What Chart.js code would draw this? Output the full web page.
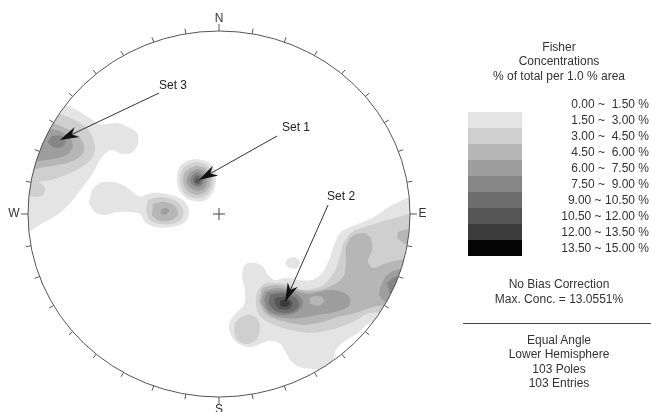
<!DOCTYPE html>
<html>
<head>
<meta charset="utf-8">
<script src="https://cdn.jsdelivr.net/npm/chart.js@4.4.0/dist/chart.umd.min.js"></script>
<style>
body { margin: 0; background: #fff; }
#wrap { position: relative; width: 651px; height: 412px; overflow: hidden;
        font-family: "Liberation Sans", Arial, sans-serif; font-size: 12px; color: #333; }
#stereo { position: absolute; left: 0; top: 0; }
.txt { position: absolute; left: 460px; width: 198px; text-align: center; line-height: 14px; white-space: nowrap; }
.rng { position: absolute; right: 2px; line-height: 14px; white-space: pre; text-align: right; }
.box { position: absolute; left: 468px; width: 54px; height: 16px; }
#rule { position: absolute; left: 463px; width: 188px; top: 323px; height: 1px; background: #444; }
</style>
</head>
<body>
<div id="wrap">
  <canvas id="stereo" width="651" height="412"></canvas>
  <div class="txt" style="top:40px">Fisher</div>
  <div class="txt" style="top:54px">Concentrations</div>
  <div class="txt" style="top:69px">% of total per 1.0 % area</div>
  <div id="legend"></div>
  <div class="txt" style="top:277px">No Bias Correction</div>
  <div class="txt" style="top:292px">Max. Conc. = 13.0551%</div>
  <div id="rule"></div>
  <div class="txt" style="top:333px">Equal Angle</div>
  <div class="txt" style="top:347px">Lower Hemisphere</div>
  <div class="txt" style="top:362px">103 Poles</div>
  <div class="txt" style="top:376px">103 Entries</div>
</div>
<script>
// contour level bounds (% of total per 1.0 % area)
const levelBounds = [0, 1.5, 3, 4.5, 6, 7.5, 9, 10.5, 12, 13.5, 15];
const levelColors = [null, '#e4e4e4', '#cfcfcf', '#b6b6b6', '#9e9e9e', '#868686', '#6d6d6d', '#555555', '#3b3b3b', '#050505'];

// contour outlines, x/y in % of net radius (N up, E right)
const set3L1 = [[-84.4,62.2],[-80.2,59.5],[-74.4,56.8],[-68.6,53.0],[-62.4,49.1],[-53.4,49.7],[-47.7,47.5],[-43.0,44.2],[-42.4,38.8],[-45.1,33.9],[-50.3,32.8],[-55.5,34.9],[-58.7,33.9],[-62.4,29.5],[-66.0,22.4],[-71.3,14.7],[-76.5,7.6],[-83.3,0.5],[-92.2,-4.9],[-99.0,-9.3],[-106.9,-11.5],[-112.1,34.9],[-93.8,65.0]];
const set3L2 = [[-91.2,56.8],[-83.3,54.6],[-75.5,51.3],[-69.2,47.0],[-66.0,41.5],[-65.0,34.9],[-67.6,28.9],[-72.8,25.1],[-79.1,21.8],[-84.4,19.7],[-91.2,18.0],[-104.3,17.5],[-104.3,55.7]];
const set3L2b = [[-99.0,16.4],[-93.8,16.9],[-91.2,14.2],[-92.2,10.4],[-96.4,9.3],[-101.7,10.4]];
const set3L3 = [[-93.8,55.7],[-88.6,50.8],[-81.7,47.5],[-75.5,44.2],[-71.3,39.3],[-70.7,34.9],[-72.8,31.1],[-78.1,28.4],[-84.4,26.8],[-91.2,25.7],[-101.7,25.1],[-101.7,54.1]];
const set3L4 = [[-93.8,48.0],[-87.5,46.4],[-82.3,44.8],[-78.1,41.5],[-76.5,37.1],[-79.1,32.8],[-84.4,30.6],[-90.7,29.5],[-99.0,29.5],[-99.0,47.0]];
const set3L5 = [[-87.5,42.6],[-82.3,42.6],[-80.2,39.9],[-82.3,36.6],[-87.0,36.6],[-89.6,39.3]];

const pairL1 = [[-66.5,13.1],[-62.4,16.9],[-55.5,17.5],[-49.3,15.3],[-45.1,12.0],[-41.4,9.3],[-37.2,10.9],[-30.9,11.5],[-23.1,9.8],[-17.8,6.6],[-15.7,1.1],[-17.8,-4.4],[-24.6,-7.1],[-33.5,-7.1],[-38.8,-4.4],[-41.4,0],[-46.6,1.1],[-52.9,1.1],[-59.7,-0.5],[-65.0,1.1],[-68.1,6.0]];
const pairL2 = [[-37.2,7.6],[-30.9,9.3],[-23.6,7.6],[-19.4,3.8],[-18.9,-1.1],[-22.5,-4.9],[-30.9,-5.5],[-36.2,-3.3],[-38.3,2.2]];
const pairL3 = [[-34.6,5.5],[-28.3,6.6],[-23.1,4.4],[-21.5,0],[-24.6,-3.3],[-30.9,-3.8],[-35.1,-1.1]];
const pairL4 = [[-29.9,2.7],[-27.2,3.3],[-26.2,1.1],[-28.8,-0.5],[-30.9,0.5]];

const set1L1 = [[-12.1,30.0],[-5.8,28.4],[-2.1,24.0],[-1.6,17.5],[-3.7,10.9],[-8.4,7.1],[-15.2,7.6],[-19.9,11.5],[-22.0,17.5],[-21.0,25.1],[-17.3,28.9]];
const set1L2 = [[-12.1,28.4],[-6.8,26.8],[-3.7,22.9],[-3.1,16.9],[-5.2,11.5],[-10.0,8.7],[-15.2,9.3],[-18.9,12.6],[-20.4,18.0],[-19.4,24.0],[-16.2,27.3]];
const set1L3 = [[-11.5,26.2],[-7.3,25.1],[-4.7,21.3],[-4.7,15.8],[-7.3,12.0],[-11.5,10.4],[-15.7,12.0],[-18.3,15.8],[-18.3,21.8],[-15.2,25.1]];
const set1L4 = [[-11.5,24.6],[-7.9,23.5],[-6.3,19.7],[-6.8,15.3],[-10.0,12.6],[-14.1,13.7],[-16.8,16.9],[-16.2,21.3],[-14.1,23.5]];
const set1L5 = [[-11.5,22.9],[-8.4,21.3],[-7.9,17.5],[-10.0,14.7],[-13.1,15.3],[-15.2,18.0],[-14.1,21.3]];
const set1L6 = [[-11.5,21.3],[-9.4,20.2],[-8.9,17.5],[-11.0,15.8],[-13.1,16.9],[-13.6,19.7]];
const set1L7 = [[-12.1,19.7],[-10.0,19.1],[-10.5,16.9],[-12.6,17.5]];

const set2L1 = [[110.6,13.1],[100.1,9.3],[93.8,6.6],[88.0,3.3],[82.8,-0.5],[75.5,-4.4],[68.6,-7.1],[64.5,-9.3],[61.8,-13.1],[59.7,-18.6],[58.2,-23.5],[56.6,-27.3],[54.0,-32.2],[48.7,-36.0],[41.4,-36.0],[35.6,-34.9],[29.3,-36.0],[25.7,-33.3],[23.1,-28.9],[18.9,-26.8],[13.6,-27.8],[12.1,-34.4],[13.6,-41.5],[13.1,-49.7],[8.4,-54.6],[5.2,-60.6],[6.8,-67.2],[10.5,-71.0],[17.3,-72.6],[23.1,-70.4],[26.7,-69.3],[31.4,-70.4],[34.6,-74.8],[37.7,-80.3],[41.9,-83.5],[48.7,-84.6],[56.1,-84.1],[59.2,-80.8],[61.3,-74.3],[66.0,-69.3],[72.8,-65.0],[80.2,-59.0],[110.6,-56.8]];
const set2L1b = [[35.6,-24.6],[39.8,-23.5],[42.4,-26.2],[40.9,-29.5],[36.7,-29.5],[34.6,-27.3]];
const set2L2 = [[110.6,0.5],[100.1,0],[92.2,-2.2],[84.4,-4.4],[76.5,-7.1],[69.7,-9.8],[65.5,-15.3],[63.4,-22.9],[61.3,-29.5],[58.2,-34.9],[54.0,-39.3],[47.7,-41.0],[41.4,-41.0],[35.6,-38.2],[29.3,-37.7],[23.6,-38.2],[19.9,-43.1],[19.4,-49.7],[21.5,-55.7],[27.8,-60.1],[37.2,-63.3],[46.6,-65.0],[55.5,-63.9],[63.4,-61.7],[71.3,-58.4],[79.1,-54.1],[110.6,-53.5]];
const set2L2b = [[10.5,-56.8],[16.2,-55.1],[20.4,-57.9],[21.5,-63.3],[19.4,-68.8],[14.7,-71.0],[10.0,-69.3],[7.9,-64.4],[8.4,-59.5]];
const set2L3 = [[22.5,-40.4],[29.3,-38.8],[37.2,-39.9],[45.1,-42.0],[52.9,-41.5],[59.7,-38.8],[65.0,-34.4],[66.5,-26.8],[66.5,-18.6],[69.2,-12.6],[74.9,-10.4],[79.1,-12.6],[80.2,-19.1],[78.1,-25.7],[80.7,-29.5],[87.5,-26.8],[94.8,-25.1],[110.6,-22.9],[110.6,-50.8],[84.4,-50.2],[79.1,-51.3],[71.3,-54.1],[62.4,-56.2],[54.0,-59.0],[43.5,-60.6],[33.0,-58.4],[24.6,-54.6],[21.0,-48.0]];
const set2L3b = [[93.8,-9.8],[100.1,-8.2],[105.3,-9.8],[105.3,-16.9],[97.5,-16.4],[93.3,-13.1]];
const set2L4 = [[23.6,-42.0],[30.9,-40.4],[39.8,-42.0],[46.6,-43.7],[51.9,-42.6],[58.2,-41.5],[64.5,-42.6],[68.6,-45.9],[67.6,-50.8],[60.8,-53.5],[51.9,-55.1],[43.5,-56.8],[33.5,-56.8],[25.7,-54.1],[22.0,-48.0]];
const set2L4b = [[84.4,-40.4],[87.5,-33.9],[92.7,-30.6],[110.6,-28.4],[110.6,-48.6],[87.5,-48.0],[83.8,-44.2]];
const set2Gap = [[47.7,-45.3],[52.9,-44.8],[55.0,-47.5],[51.9,-50.2],[47.7,-49.1]];
const set2L5 = [[25.2,-42.6],[33.5,-42.0],[41.4,-44.2],[44.0,-49.1],[39.8,-54.1],[31.4,-55.1],[25.7,-52.4],[23.6,-47.0]];
const set2L5b = [[88.0,-37.7],[92.2,-34.4],[110.6,-33.3],[110.6,-44.8],[89.6,-43.7]];
const set2L6 = [[26.7,-44.1],[34.2,-43.3],[40.5,-46.0],[41.7,-50.5],[36.7,-53.9],[29.8,-53.2],[25.9,-49.2]];
const set2L7 = [[29.2,-46.0],[34.8,-45.4],[38.5,-48.6],[36.8,-51.9],[31.7,-51.9],[29.2,-49.2]];
const set2L8 = [[32.0,-47.5],[35.6,-47.0],[37.2,-49.1],[34.6,-50.8],[32.0,-50.2]];

// set labels and arrows
const setNames = ['Set 1', 'Set 2', 'Set 3'];
const arrowTips = [[-10.5,18.6], [34.6,-48.0], [-83.3,40.4]];
const arrowTails = [[30.4,42.6], [57.1,4.9], [-31.4,66.1]];
const labelPos = [[40.3,47.0], [63.9,9.3], [-24.1,69.9]];

const directions = ['N', 'E', 'S', 'W'];

// drawing order: lowest level first
const contours = [
  [1, set3L1], [1, pairL1], [1, set1L1], [1, set2L1], [1, set2L1b],
  [2, set3L2], [2, set3L2b], [2, pairL2], [2, set1L2], [2, set2L2], [2, set2L2b],
  [3, set3L3], [3, pairL3], [3, set1L3], [3, set2L3], [3, set2L3b],
  [4, set3L4], [4, pairL4], [4, set1L4], [4, set2L4], [4, set2L4b],
  [3, set2Gap],
  [5, set3L5], [5, set1L5], [5, set2L5], [5, set2L5b],
  [6, set1L6], [6, set2L6],
  [7, set1L7], [7, set2L7],
  [8, set2L8]
];

const datasets = contours.map((c, i) => ({
  data: c[1].map(p => ({x: p[0], y: p[1]})),
  backgroundColor: levelColors[c[0]],
  borderWidth: 0,
  pointRadius: 0,
  fill: 'shape',
  tension: 0.35,
  order: contours.length - i
}));

// legend boxes + labels
const legend = document.getElementById('legend');
for (let i = 0; i < levelBounds.length - 1; i++) {
  const yc = 104 + 16 * i;
  if (levelColors[i]) {
    const b = document.createElement('div');
    b.className = 'box';
    b.style.top = (yc - 8) + 'px';
    b.style.background = levelColors[i];
    legend.appendChild(b);
  }
  const t = document.createElement('div');
  t.className = 'rng';
  t.style.top = (yc - 7) + 'px';
  t.textContent = levelBounds[i].toFixed(2) + ' ~ ' + levelBounds[i + 1].toFixed(2).padStart(5, ' ') + ' %';
  legend.appendChild(t);
}

function netGeom(chart) {
  const {x, y} = chart.scales;
  const cx = x.getPixelForValue(0), cy = y.getPixelForValue(0);
  return {x, y, cx, cy, rx: x.getPixelForValue(100) - cx, ry: cy - y.getPixelForValue(100)};
}

const stereoPlugin = {
  id: 'stereo',
  beforeDatasetsDraw(chart) {
    const g = netGeom(chart);
    const ctx = chart.ctx;
    ctx.save();
    ctx.beginPath();
    ctx.ellipse(g.cx, g.cy, g.rx, g.ry, 0, 0, Math.PI * 2);
    ctx.clip();
  },
  afterDatasetsDraw(chart) {
    const ctx = chart.ctx;
    ctx.restore();
    const g = netGeom(chart);

    // primitive circle + ticks
    ctx.save();
    ctx.strokeStyle = '#555';
    ctx.lineWidth = 1;
    ctx.beginPath();
    ctx.ellipse(g.cx, g.cy, g.rx, g.ry, 0, 0, Math.PI * 2);
    ctx.stroke();
    for (let a = 0; a < 360; a += 10) {
      const r = a * Math.PI / 180;
      const px = g.cx + g.rx * Math.sin(r), py = g.cy - g.ry * Math.cos(r);
      const len = a % 90 === 0 ? 7 : 5;
      ctx.beginPath();
      ctx.moveTo(px, py);
      ctx.lineTo(px + len * Math.sin(r), py - len * Math.cos(r));
      ctx.stroke();
    }
    ctx.font = '12px "Liberation Sans", Arial, sans-serif';
    ctx.fillStyle = '#333';
    ctx.textAlign = 'center';
    ctx.textBaseline = 'middle';
    directions.forEach((d, i) => {
      const r = i * Math.PI / 2;
      const off = i === 3 ? 14 : 12.5;
      ctx.fillText(d, g.cx + (g.rx + off) * Math.sin(r), g.cy - (g.ry + off) * Math.cos(r));
    });

    // centre cross
    ctx.strokeStyle = '#444';
    ctx.beginPath();
    ctx.moveTo(g.cx - 6, g.cy); ctx.lineTo(g.cx + 6, g.cy);
    ctx.moveTo(g.cx, g.cy - 6); ctx.lineTo(g.cx, g.cy + 6);
    ctx.stroke();

    // arrows to the sets
    setNames.forEach((name, i) => {
      const tx = g.x.getPixelForValue(arrowTips[i][0]), ty = g.y.getPixelForValue(arrowTips[i][1]);
      const sx = g.x.getPixelForValue(arrowTails[i][0]), sy = g.y.getPixelForValue(arrowTails[i][1]);
      const dx = sx - tx, dy = sy - ty, d = Math.hypot(dx, dy);
      const ux = dx / d, uy = dy / d;
      ctx.strokeStyle = '#333';
      ctx.beginPath();
      ctx.moveTo(sx, sy);
      ctx.lineTo(tx + ux * 12, ty + uy * 12);
      ctx.stroke();
      ctx.fillStyle = '#111';
      ctx.beginPath();
      ctx.moveTo(tx, ty);
      ctx.lineTo(tx + ux * 19 - uy * 5.5, ty + uy * 19 + ux * 5.5);
      ctx.lineTo(tx + ux * 13, ty + uy * 13);
      ctx.lineTo(tx + ux * 19 + uy * 5.5, ty + uy * 19 - ux * 5.5);
      ctx.closePath();
      ctx.fill();
      ctx.fillStyle = '#222';
      ctx.fillText(name, g.x.getPixelForValue(labelPos[i][0]), g.y.getPixelForValue(labelPos[i][1]));
    });
    ctx.restore();
  }
};

new Chart(document.getElementById('stereo').getContext('2d'), {
  type: 'line',
  data: { datasets: datasets },
  options: {
    responsive: false,
    animation: false,
    events: [],
    layout: { padding: { left: 28, right: 241, top: 31, bottom: 15 } },
    scales: {
      x: { type: 'linear', min: -100, max: 100, display: false },
      y: { type: 'linear', min: -100, max: 100, display: false }
    },
    plugins: { legend: { display: false }, tooltip: { enabled: false } }
  },
  plugins: [stereoPlugin]
});
</script>
</body>
</html>
